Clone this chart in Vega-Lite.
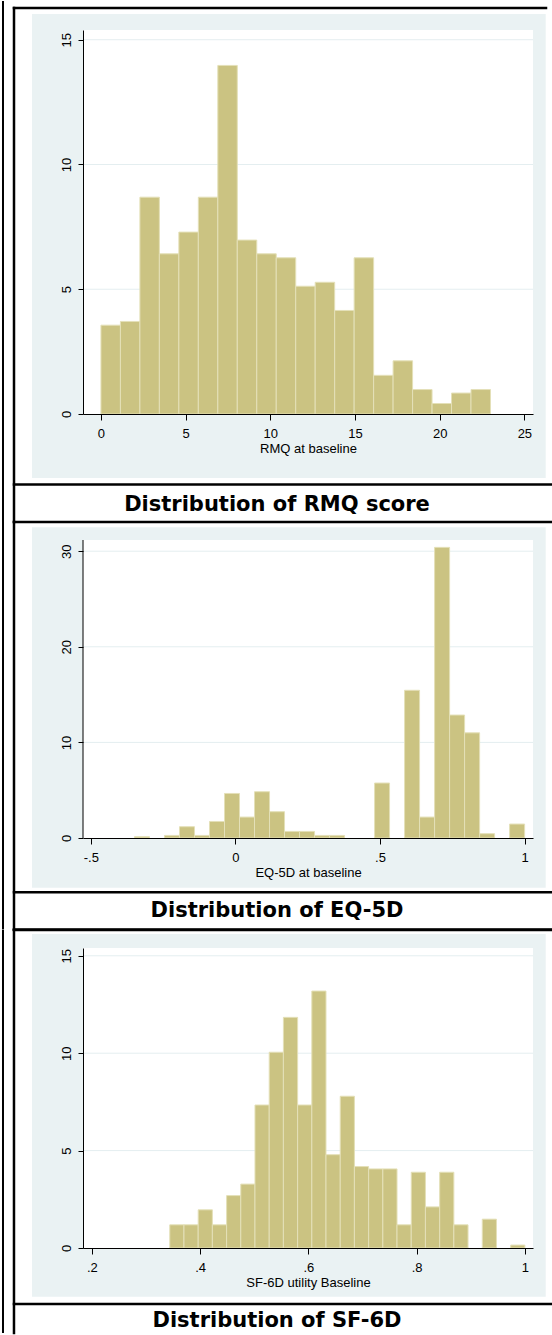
{
  "$schema": "https://vega.github.io/schema/vega-lite/v6.json",
  "background": "white",
  "padding": {"left": 1, "top": 0, "right": 0, "bottom": 0},
  "autosize": {"type": "pad"},
  "config": {
    "view": {"stroke": null},
    "axis": {
      "labelFont": "Liberation Sans", "labelFontSize": 13, "labelColor": "black",
      "titleFont": "Liberation Sans", "titleFontSize": 13, "titleFontWeight": "normal", "titleColor": "black",
      "domainColor": "black", "domainWidth": 1, "tickColor": "black", "tickWidth": 1,
      "grid": false, "labelOverlap": false
    },
    "axisX": {"tickSize": 6, "labelPadding": 7, "titlePadding": 2, "labelFlush": false},
    "axisY": {"tickSize": 5, "labelPadding": 5, "labelAngle": -90, "labelAlign": "center", "labelBaseline": "bottom", "title": null}
  },
  "datasets": {
    "one": [{}],
    "rmq": [
      {"x0": 0, "x1": 1.15, "pct": 3.56},
      {"x0": 1.15, "x1": 2.3, "pct": 3.71},
      {"x0": 2.3, "x1": 3.45, "pct": 8.69},
      {"x0": 3.45, "x1": 4.6, "pct": 6.42},
      {"x0": 4.6, "x1": 5.75, "pct": 7.29},
      {"x0": 5.75, "x1": 6.9, "pct": 8.69},
      {"x0": 6.9, "x1": 8.05, "pct": 13.97},
      {"x0": 8.05, "x1": 9.2, "pct": 6.97},
      {"x0": 9.2, "x1": 10.35, "pct": 6.42},
      {"x0": 10.35, "x1": 11.5, "pct": 6.26},
      {"x0": 11.5, "x1": 12.65, "pct": 5.12},
      {"x0": 12.65, "x1": 13.8, "pct": 5.28},
      {"x0": 13.8, "x1": 14.95, "pct": 4.15},
      {"x0": 14.95, "x1": 16.1, "pct": 6.26},
      {"x0": 16.1, "x1": 17.25, "pct": 1.55},
      {"x0": 17.25, "x1": 18.4, "pct": 2.13},
      {"x0": 18.4, "x1": 19.55, "pct": 0.98},
      {"x0": 19.55, "x1": 20.7, "pct": 0.42},
      {"x0": 20.7, "x1": 21.85, "pct": 0.84},
      {"x0": 21.85, "x1": 23.0, "pct": 0.98}
    ],
    "eq5d": [
      {"x0": -0.349, "x1": -0.2971, "pct": 0.14},
      {"x0": -0.2452, "x1": -0.1934, "pct": 0.27},
      {"x0": -0.1934, "x1": -0.1415, "pct": 1.18},
      {"x0": -0.1415, "x1": -0.0896, "pct": 0.27},
      {"x0": -0.0896, "x1": -0.0377, "pct": 1.73},
      {"x0": -0.0377, "x1": 0.0142, "pct": 4.66},
      {"x0": 0.0142, "x1": 0.0661, "pct": 2.19},
      {"x0": 0.0661, "x1": 0.118, "pct": 4.84},
      {"x0": 0.118, "x1": 0.1699, "pct": 2.75},
      {"x0": 0.1699, "x1": 0.2217, "pct": 0.69},
      {"x0": 0.2217, "x1": 0.2736, "pct": 0.69},
      {"x0": 0.2736, "x1": 0.3255, "pct": 0.27},
      {"x0": 0.3255, "x1": 0.3774, "pct": 0.27},
      {"x0": 0.4812, "x1": 0.533, "pct": 5.75},
      {"x0": 0.5849, "x1": 0.6368, "pct": 15.45},
      {"x0": 0.6368, "x1": 0.6887, "pct": 2.19},
      {"x0": 0.6887, "x1": 0.7406, "pct": 30.4},
      {"x0": 0.7406, "x1": 0.7925, "pct": 12.86},
      {"x0": 0.7925, "x1": 0.8444, "pct": 11.0},
      {"x0": 0.8444, "x1": 0.8962, "pct": 0.45},
      {"x0": 0.9481, "x1": 1.0, "pct": 1.46}
    ],
    "sf6d": [
      {"x0": 0.344, "x1": 0.3702, "pct": 1.19},
      {"x0": 0.3702, "x1": 0.3965, "pct": 1.19},
      {"x0": 0.3965, "x1": 0.4227, "pct": 1.96},
      {"x0": 0.4227, "x1": 0.449, "pct": 1.19},
      {"x0": 0.449, "x1": 0.4752, "pct": 2.69},
      {"x0": 0.4752, "x1": 0.5014, "pct": 3.28},
      {"x0": 0.5014, "x1": 0.5277, "pct": 7.34},
      {"x0": 0.5277, "x1": 0.5539, "pct": 10.05},
      {"x0": 0.5539, "x1": 0.5802, "pct": 11.84},
      {"x0": 0.5802, "x1": 0.6064, "pct": 7.34},
      {"x0": 0.6064, "x1": 0.6326, "pct": 13.19},
      {"x0": 0.6326, "x1": 0.6589, "pct": 4.79},
      {"x0": 0.6589, "x1": 0.6851, "pct": 7.79},
      {"x0": 0.6851, "x1": 0.7114, "pct": 4.18},
      {"x0": 0.7114, "x1": 0.7376, "pct": 4.06},
      {"x0": 0.7376, "x1": 0.7638, "pct": 4.06},
      {"x0": 0.7638, "x1": 0.7901, "pct": 1.19},
      {"x0": 0.7901, "x1": 0.8163, "pct": 3.89},
      {"x0": 0.8163, "x1": 0.8426, "pct": 2.11},
      {"x0": 0.8426, "x1": 0.8688, "pct": 3.89},
      {"x0": 0.8688, "x1": 0.895, "pct": 1.19},
      {"x0": 0.9213, "x1": 0.9475, "pct": 1.48},
      {"x0": 0.9738, "x1": 1.0, "pct": 0.15}
    ]
  },
  "vconcat": [
    {
      "width": 450, "height": 384,
      "layer": [
        {"data": {"name": "one"}, "mark": {"type": "rect", "color": "#EAF2F3"},
         "encoding": {"x": {"datum": -4.071}, "x2": {"datum": 26.26}, "y": {"datum": 16.031}, "y2": {"datum": -2.565}}},
        {"data": {"name": "one"}, "mark": {"type": "rect", "color": "white"},
         "encoding": {"x": {"datum": -1.06}, "x2": {"datum": 25.51}, "y": {"datum": 0}, "y2": {"datum": 15.39}}},
        {"data": {"values": [{"g": 5}, {"g": 10}, {"g": 15}]},
         "mark": {"type": "rule", "color": "#E4EEF0", "strokeWidth": 1},
         "encoding": {"y": {"field": "g", "type": "quantitative"}, "x": {"datum": -1.06}, "x2": {"datum": 25.51}}},
        {"data": {"name": "rmq"},
         "mark": {"type": "rect", "color": "#CBC382", "stroke": "#E4E0B8", "strokeWidth": 1},
         "encoding": {
           "x": {"field": "x0", "type": "quantitative", "scale": {"domain": [-1.06, 25.51], "nice": false, "zero": false},
                 "axis": {"values": [0, 5, 10, 15, 20, 25], "title": "RMQ at baseline", "zindex": 2}},
           "x2": {"field": "x1"},
           "y": {"field": "pct", "type": "quantitative", "scale": {"domain": [0, 15.39], "nice": false, "zero": false},
                 "axis": {"values": [0, 5, 10, 15], "title": null, "zindex": 2}}
         }},
        {"data": {"name": "one"}, "mark": {"type": "rule", "color": "black", "strokeWidth": 2.5, "strokeCap": "square"},
         "encoding": {"x": {"datum": -5.134}, "x2": {"datum": 26.278}, "y": {"datum": 16.272}}},
        {"data": {"name": "one"}, "mark": {"type": "rule", "color": "black", "strokeWidth": 2.5, "strokeCap": "square"},
         "encoding": {"x": {"datum": -5.134}, "x2": {"datum": 26.57}, "y": {"datum": -2.826}}},
        {"data": {"name": "one"}, "mark": {"type": "rule", "color": "black", "strokeWidth": 2.5, "strokeCap": "square"},
         "encoding": {"x": {"datum": -5.134}, "x2": {"datum": 26.57}, "y": {"datum": -4.328}}},
        {"data": {"name": "one"}, "mark": {"type": "rule", "color": "black", "strokeWidth": 2.5, "strokeCap": "square"},
         "encoding": {"x": {"datum": -5.134}, "y": {"datum": 16.272}, "y2": {"datum": -4.328}}},
        {"data": {"name": "one"}, "mark": {"type": "rule", "color": "black", "strokeWidth": 2},
         "encoding": {"x": {"datum": -5.784}, "y": {"datum": 16.552}, "y2": {"datum": -4.328}}},
        {"data": {"name": "one"}, "mark": {"type": "text", "font": "DejaVu Sans", "fontWeight": "bold", "fontSize": 21, "align": "center", "baseline": "middle", "color": "black"},
         "encoding": {"x": {"datum": 10.395}, "y": {"datum": -3.647}, "text": {"value": "Distribution of RMQ score"}}}
      ]
    },
    {
      "width": 450, "height": 314,
      "layer": [
        {"data": {"name": "one"}, "mark": {"type": "rect", "color": "#EAF2F3"},
         "encoding": {"x": {"datum": -0.7033}, "x2": {"datum": 1.0729}, "y": {"datum": 32.5}, "y2": {"datum": -5.199}}},
        {"data": {"name": "one"}, "mark": {"type": "rect", "color": "white"},
         "encoding": {"x": {"datum": -0.527}, "x2": {"datum": 1.029}, "y": {"datum": 0}, "y2": {"datum": 31.17}}},
        {"data": {"values": [{"g": 10}, {"g": 20}, {"g": 30}]},
         "mark": {"type": "rule", "color": "#E4EEF0", "strokeWidth": 1},
         "encoding": {"y": {"field": "g", "type": "quantitative"}, "x": {"datum": -0.527}, "x2": {"datum": 1.029}}},
        {"data": {"name": "eq5d"},
         "mark": {"type": "rect", "color": "#CBC382", "stroke": "#E4E0B8", "strokeWidth": 1},
         "encoding": {
           "x": {"field": "x0", "type": "quantitative", "scale": {"domain": [-0.527, 1.029], "nice": false, "zero": false},
                 "axis": {"values": [-0.5, 0, 0.5, 1], "title": "EQ-5D at baseline", "labelExpr": "replace(toString(datum.value), '0.', '.')", "zindex": 2}},
           "x2": {"field": "x1"},
           "y": {"field": "pct", "type": "quantitative", "scale": {"domain": [0, 32.844], "nice": false, "zero": false},
                 "axis": {"values": [0, 10, 20, 30], "title": null, "domain": false, "zindex": 2}}
         }},
        {"data": {"name": "one"}, "mark": {"type": "rule", "color": "black", "strokeWidth": 1},
         "encoding": {"x": {"datum": -0.527}, "y": {"datum": 0}, "y2": {"datum": 31.17}}},
        {"data": {"name": "one"}, "mark": {"type": "rule", "color": "black", "strokeWidth": 2.5, "strokeCap": "square"},
         "encoding": {"x": {"datum": -0.7656}, "x2": {"datum": 1.0913}, "y": {"datum": -5.68}}},
        {"data": {"name": "one"}, "mark": {"type": "rule", "color": "black", "strokeWidth": 2.5, "strokeCap": "square"},
         "encoding": {"x": {"datum": -0.7656}, "x2": {"datum": 1.0913}, "y": {"datum": -9.571}}},
        {"data": {"name": "one"}, "mark": {"type": "rule", "color": "black", "strokeWidth": 2.5, "strokeCap": "square"},
         "encoding": {"x": {"datum": -0.7656}, "y": {"datum": 33.054}, "y2": {"datum": -9.571}}},
        {"data": {"name": "one"}, "mark": {"type": "rule", "color": "black", "strokeWidth": 2},
         "encoding": {"x": {"datum": -0.8036}, "y": {"datum": 33.054}, "y2": {"datum": -9.571}}},
        {"data": {"name": "one"}, "mark": {"type": "text", "font": "DejaVu Sans", "fontWeight": "bold", "fontSize": 21, "align": "center", "baseline": "middle", "color": "black"},
         "encoding": {"x": {"datum": 0.1438}, "y": {"datum": -7.636}, "text": {"value": "Distribution of EQ-5D"}}}
      ]
    },
    {
      "width": 450, "height": 300,
      "layer": [
        {"data": {"name": "one"}, "mark": {"type": "rect", "color": "#EAF2F3"},
         "encoding": {"x": {"datum": 0.0895}, "x2": {"datum": 1.0385}, "y": {"datum": 16.119}, "y2": {"datum": -2.5}}},
        {"data": {"name": "one"}, "mark": {"type": "rect", "color": "white"},
         "encoding": {"x": {"datum": 0.1837}, "x2": {"datum": 1.015}, "y": {"datum": 0}, "y2": {"datum": 15.4}}},
        {"data": {"values": [{"g": 5}, {"g": 10}, {"g": 15}]},
         "mark": {"type": "rule", "color": "#E4EEF0", "strokeWidth": 1},
         "encoding": {"y": {"field": "g", "type": "quantitative"}, "x": {"datum": 0.1837}, "x2": {"datum": 1.015}}},
        {"data": {"name": "sf6d"},
         "mark": {"type": "rect", "color": "#CBC382", "stroke": "#E4E0B8", "strokeWidth": 1},
         "encoding": {
           "x": {"field": "x0", "type": "quantitative", "scale": {"domain": [0.1837, 1.015], "nice": false, "zero": false},
                 "axis": {"values": [0.2, 0.4, 0.6, 0.8, 1], "title": "SF-6D utility Baseline", "labelExpr": "replace(toString(datum.value), '0.', '.')", "zindex": 2}},
           "x2": {"field": "x1"},
           "y": {"field": "pct", "type": "quantitative", "scale": {"domain": [0, 15.4], "nice": false, "zero": false},
                 "axis": {"values": [0, 5, 10, 15], "title": null, "zindex": 2}}
         }},
        {"data": {"name": "one"}, "mark": {"type": "rule", "color": "black", "strokeWidth": 2.5, "strokeCap": "square"},
         "encoding": {"x": {"datum": 0.0562}, "x2": {"datum": 1.0483}, "y": {"datum": 16.324}}},
        {"data": {"name": "one"}, "mark": {"type": "rule", "color": "black", "strokeWidth": 2.5, "strokeCap": "square"},
         "encoding": {"x": {"datum": 0.0562}, "x2": {"datum": 1.0483}, "y": {"datum": -2.875}}},
        {"data": {"name": "one"}, "mark": {"type": "rule", "color": "black", "strokeWidth": 2.5, "strokeCap": "square"},
         "encoding": {"x": {"datum": 0.0562}, "y": {"datum": 16.324}, "y2": {"datum": -4.363}}},
        {"data": {"name": "one"}, "mark": {"type": "rule", "color": "black", "strokeWidth": 2},
         "encoding": {"x": {"datum": 0.0359}, "y": {"datum": 16.324}, "y2": {"datum": -4.363}}},
        {"data": {"name": "one"}, "mark": {"type": "text", "font": "DejaVu Sans", "fontWeight": "bold", "fontSize": 21, "align": "center", "baseline": "middle", "color": "black"},
         "encoding": {"x": {"datum": 0.5421}, "y": {"datum": -3.747}, "text": {"value": "Distribution of SF-6D"}}}
      ]
    }
  ],
  "spacing": 110,
  "bounds": "flush"
}
